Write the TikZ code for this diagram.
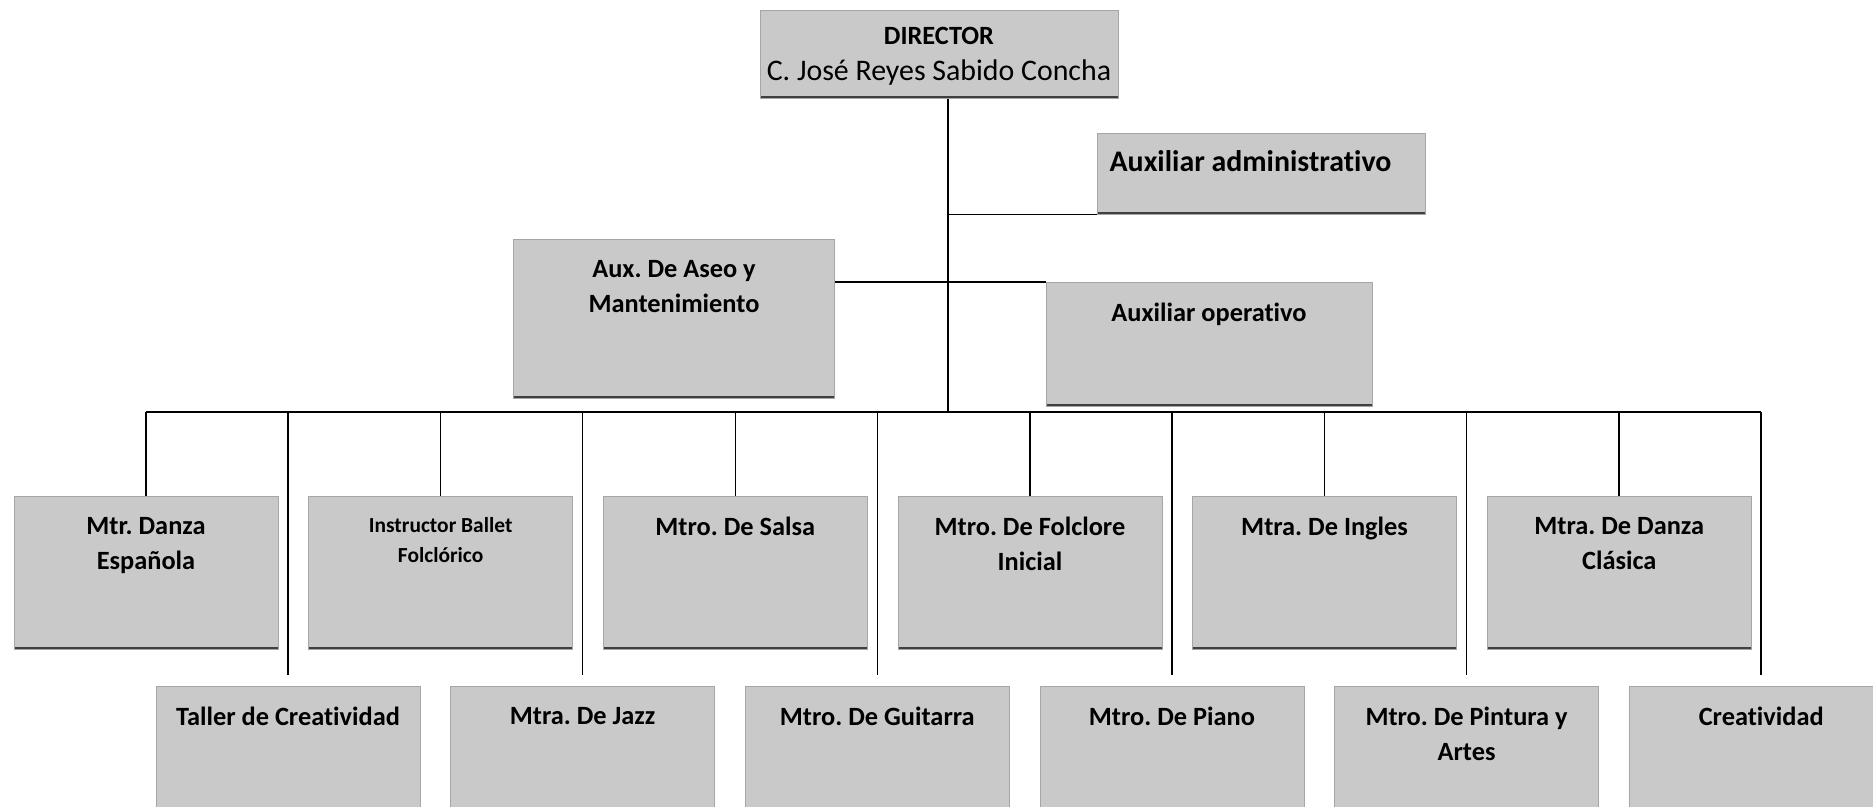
\documentclass[tikz,border=0pt]{standalone}
\usepackage{fontspec}
\setmainfont{Carlito}[Ligatures={TeX,NoCommon}]
\usetikzlibrary{positioning}
\frenchspacing
\tikzset{node distance=0.6cm,
	puesto/.style={
		draw=gray!70,
		fill=gray!42,
		minimum width=5.28cm,
		minimum height=3.06cm,
		inner sep=0pt,
		anchor=north,
		path picture={\draw[line width=3.2pt,black!75] (path picture bounding box.south west) -- (path picture bounding box.south east);}
	},
	etiqueta/.style={
		anchor=north,
		yshift=-8.5pt,
		align=center,
		font=\bfseries\fontsize{15}{20}\selectfont
	},
	linea/.style={
		draw,
		line width=0.9pt
	}
}
\begin{document}
\begin{tikzpicture}[x=0.02cm,y=-0.02cm]
		\useasboundingbox (0,0) rectangle (1873,806);
		\clip (0,0) rectangle (1873,806);

		\node[puesto, minimum width=7.16cm, minimum height=1.76cm, label={[etiqueta, yshift=2pt]north:{DIRECTOR\\\mdseries\fontsize{17}{20}\selectfont C. José Reyes Sabido Concha}}] (director) at (939,10) {};
		\node[puesto, minimum width=6.56cm, minimum height=1.62cm, label={[etiqueta, xshift=-6pt, yshift=2pt, font=\bfseries\fontsize{17}{20}\selectfont]north:{Auxiliar administrativo}}] (auxadm) at (1261,133) {};
		\node[puesto, minimum width=6.42cm, minimum height=3.18cm, label={[etiqueta]north:{Aux. De Aseo y\\Mantenimiento}}] (aseo) at (674,239) {};
		\node[puesto, minimum width=6.52cm, minimum height=2.48cm, label={[etiqueta]north:{Auxiliar operativo}}] (auxop) at (1209,282) {};

		% primera fila
		\node[puesto, label={[etiqueta]north:{Mtr. Danza\\Española}}] (danza) at (146,496) {};
		\node[puesto, right=of danza, label={[etiqueta, font=\bfseries\fontsize{12.2}{17}\selectfont]north:{Instructor Ballet\\Folclórico}}] (ballet) {};
		\node[puesto, right=of ballet, label={[etiqueta]north:{Mtro. De Salsa}}] (salsa) {};
		\node[puesto, right=of salsa, label={[etiqueta]north:{Mtro. De Folclore\\Inicial}}] (folclore) {};
		\node[puesto, right=of folclore, label={[etiqueta]north:{Mtra. De Ingles}}] (ingles) {};
		\node[puesto, right=of ingles, label={[etiqueta]north:{Mtra. De Danza\\Clásica}}] (clasica) {};

		% segunda fila
		\node[puesto, minimum height=3.4cm, label={[etiqueta]north:{Taller de Creatividad}}] (taller) at (288,686) {};
		\node[puesto, minimum height=3.4cm, right=of taller, label={[etiqueta]north:{Mtra. De Jazz}}] (jazz) {};
		\node[puesto, minimum height=3.4cm, right=of jazz, label={[etiqueta]north:{Mtro. De Guitarra}}] (guitarra) {};
		\node[puesto, minimum height=3.4cm, right=of guitarra, label={[etiqueta]north:{Mtro. De Piano}}] (piano) {};
		\node[puesto, minimum height=3.4cm, right=of piano, label={[etiqueta]north:{Mtro. De Pintura y\\Artes}}] (pintura) {};
		\node[puesto, minimum height=3.4cm, right=of pintura, label={[etiqueta]north:{Creatividad}}] (creatividad) {};

		\coordinate (bus) at (948,412);

		\draw[linea] (director.south -| bus) -- (bus);
		\draw[linea] (bus |- auxadm.south west) -- (auxadm.south west);
		\draw[linea] (aseo.east |- auxop.north west) -- (auxop.north west);
		\draw[linea] (danza.north |- bus) -- (creatividad.north |- bus);

		\draw[linea] (danza.north |- bus) -- (danza.north);
		\draw[linea] (ballet.north |- bus) -- (ballet.north);
		\draw[linea] (salsa.north |- bus) -- (salsa.north);
		\draw[linea] (folclore.north |- bus) -- (folclore.north);
		\draw[linea] (ingles.north |- bus) -- (ingles.north);
		\draw[linea] (clasica.north |- bus) -- (clasica.north);

		\draw[linea, shorten >=0.22cm] (taller.north |- bus) -- (taller.north);
		\draw[linea, shorten >=0.22cm] (jazz.north |- bus) -- (jazz.north);
		\draw[linea, shorten >=0.22cm] (guitarra.north |- bus) -- (guitarra.north);
		\draw[linea, shorten >=0.22cm] (piano.north |- bus) -- (piano.north);
		\draw[linea, shorten >=0.22cm] (pintura.north |- bus) -- (pintura.north);
		\draw[linea, shorten >=0.22cm] (creatividad.north |- bus) -- (creatividad.north);
\end{tikzpicture}
\end{document}
